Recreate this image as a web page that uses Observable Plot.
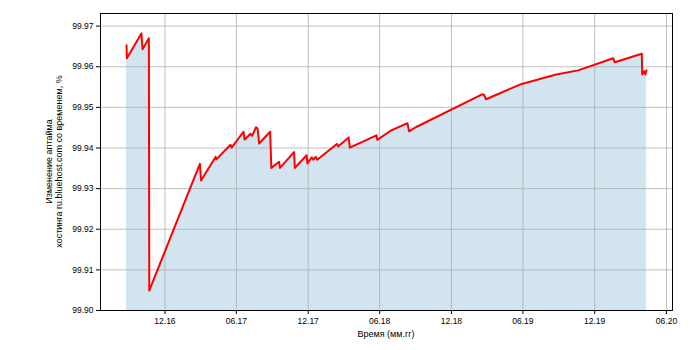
<!DOCTYPE html>
<html>
<head>
<meta charset="utf-8">
<script src="https://cdn.jsdelivr.net/npm/d3@7"></script>
<script src="https://cdn.jsdelivr.net/npm/@observablehq/plot@0.6"></script>
<style>
  html, body { margin: 0; padding: 0; background: #fff; }
  #chart { width: 700px; height: 350px; }
</style>
</head>
<body>
<div id="chart"></div>
<script>
const dates = ["2016-08-25","2016-08-26","2016-10-02","2016-10-05","2016-10-21","2016-10-22",
  "2017-02-28","2017-03-03","2017-04-09","2017-04-11","2017-05-17","2017-05-20",
  "2017-06-19","2017-06-22","2017-07-07","2017-07-11","2017-07-21","2017-07-25",
  "2017-07-29","2017-08-26","2017-08-29","2017-09-18","2017-09-20","2017-10-26",
  "2017-10-28","2017-11-27","2017-11-29","2017-12-10","2017-12-14","2017-12-20",
  "2017-12-24","2018-02-12","2018-02-16","2018-03-14","2018-03-17","2018-05-24",
  "2018-05-26","2018-06-30","2018-08-11","2018-08-15","2018-09-01","2019-02-17",
  "2019-02-22","2019-02-27","2019-05-27","2019-08-25","2019-10-20","2020-01-17",
  "2020-01-21","2020-03-30","2020-03-31","2020-04-05","2020-04-08","2020-04-11"];
const uptime = [99.9653,99.9621,99.9682,99.9643,99.9670,99.9049,
  99.9361,99.9320,99.9378,99.9372,99.9408,99.9401,
  99.9440,99.9421,99.9435,99.9430,99.9451,99.9448,
  99.9411,99.9440,99.9351,99.9366,99.9351,99.9390,
  99.9351,99.9382,99.9362,99.9377,99.9371,99.9378,
  99.9371,99.9410,99.9404,99.9426,99.9401,99.9431,
  99.9420,99.9443,99.9461,99.9441,99.9451,99.9532,
  99.9531,99.9520,99.9557,99.9581,99.9591,99.9621,
  99.9611,99.9632,99.9581,99.9589,99.9581,99.9591];
const xTickDates = ["2016-12-01","2017-06-01","2017-12-01","2018-06-01","2018-12-01","2019-06-01","2019-12-01","2020-06-01"];
const yTicks = [99.90, 99.91, 99.92, 99.93, 99.94, 99.95, 99.96, 99.97];
const yBase = 99.90;
const yTop = 99.9731;
const xLabel = "Время (мм.гг)";
const yLabelLines = ["Изменение аптайма", "хостинга ru.bluehost.com со временем, %"];

const data = dates.map((d, i) => ({date: new Date(d + "T00:00:00Z"), value: uptime[i]}));
const ext = d3.extent(data, d => +d.date);
const pad = (ext[1] - ext[0]) * 0.05;
const xDomain = [new Date(ext[0] - pad), new Date(ext[1] + pad)];
const xTicks = xTickDates.map(d => new Date(d + "T00:00:00Z"));

const W = 700, H = 350, mL = 100, mR = 28, mT = 13, mB = 40;

const chart = Plot.plot({
  width: W, height: H,
  marginLeft: mL, marginRight: mR, marginTop: mT, marginBottom: mB,
  style: {fontFamily: "'Liberation Sans', Arial, sans-serif", fontSize: "8.5px", color: "black", background: "white"},
  x: {type: "utc", domain: xDomain},
  y: {domain: [yBase, yTop]},
  marks: [
    Plot.areaY(data, {x: "date", y1: yBase, y2: "value", fill: "#1f77b4", fillOpacity: 0.2}),
    Plot.ruleX(xTicks, {x: d => d, stroke: "#b0b0b0", strokeWidth: 0.8}),
    Plot.ruleY(yTicks, {y: d => d, stroke: "#b0b0b0", strokeWidth: 0.8}),
    Plot.lineY(data, {x: "date", y: "value", stroke: "red", strokeWidth: 2}),
    Plot.frame({stroke: "black", strokeWidth: 1}),
    Plot.axisX({ticks: xTicks, tickFormat: d3.utcFormat("%m.%y"), tickSize: 4, tickPadding: 3, label: null}),
    Plot.axisY({ticks: yTicks, tickFormat: d => d.toFixed(2), tickSize: 4, tickPadding: 3, label: null})
  ]
});
document.getElementById("chart").appendChild(chart);

const svg = d3.select(chart);
const cx = (mL + (W - mR)) / 2;
svg.append("text").attr("x", cx).attr("y", 337).attr("text-anchor", "middle")
  .attr("font-size", "9px").attr("fill", "black").text(xLabel);
const cy = (mT + (H - mB)) / 2;
const yl = svg.append("text").attr("transform", `translate(52,${cy}) rotate(-90)`)
  .attr("text-anchor", "middle").attr("font-size", "9px").attr("fill", "black");
yl.append("tspan").attr("x", 0).attr("dy", "0em").text(yLabelLines[0]);
yl.append("tspan").attr("x", 0).attr("dy", "1.15em").text(yLabelLines[1]);
</script>
</body>
</html>
